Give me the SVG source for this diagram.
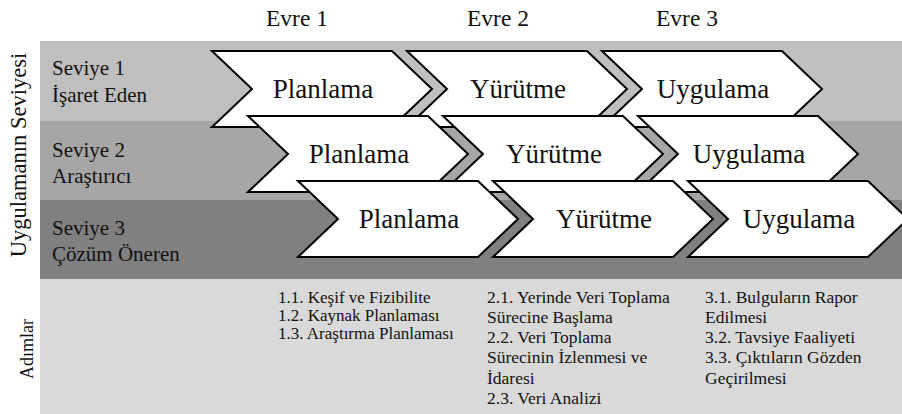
<svg xmlns="http://www.w3.org/2000/svg" width="902" height="414" viewBox="0 0 902 414">
<style>
text{font-family:"Liberation Serif","DejaVu Serif","Times New Roman",serif;fill:#111}
.evre{font-size:23.5px;text-anchor:middle}
.lbl{font-size:21px}
.chev{fill:#fff;stroke:#000;stroke-width:2;stroke-linejoin:miter}
.ct{font-size:27px;text-anchor:middle}
.st{font-size:17px}
.st2{font-size:17.5px}
.rot{font-size:22.5px;text-anchor:middle}
</style>
<defs>
<polygon id="chev" points="0,0 180,0 220,38 180,76 0,76 40,38"/>
</defs>
<rect width="902" height="414" fill="#fff"/>
<g id="bands">
<rect x="40" y="41" width="862" height="80" fill="#bfbfbf"/>
<rect x="40" y="121" width="862" height="79" fill="#a6a6a6"/>
<rect x="40" y="200" width="862" height="79" fill="#808080"/>
<rect x="40" y="279" width="862" height="135" fill="#d9d9d9"/>
</g>
<g id="headers">
<text class="evre" x="297" y="26">Evre 1</text>
<text class="evre" x="498" y="26">Evre 2</text>
<text class="evre" x="687" y="26">Evre 3</text>
</g>
<g id="axis-labels">
<text class="rot" transform="translate(26,155) rotate(-90)">Uygulamanın Seviyesi</text>
<text class="rot" style="font-size:18px" transform="translate(33,349) rotate(-90)">Adımlar</text>
</g>
<g id="level-labels">
<text class="lbl" x="52" y="75">Seviye 1</text>
<text class="lbl" x="52" y="102">İşaret Eden</text>
<text class="lbl" x="52" y="157">Seviye 2</text>
<text class="lbl" x="52" y="183">Araştırıcı</text>
<text class="lbl" x="52" y="235">Seviye 3</text>
<text class="lbl" x="52" y="261">Çözüm Öneren</text>
</g>
<g id="connectors"></g>
<g id="row1">
<g id="n-planlama-1"><use href="#chev" class="chev" x="212" y="51"/><text class="ct" x="323" y="98">Planlama</text></g>
<g id="n-yurutme-1"><use href="#chev" class="chev" x="407" y="51"/><text class="ct" x="518" y="98">Yürütme</text></g>
<g id="n-uygulama-1"><use href="#chev" class="chev" x="602" y="51"/><text class="ct" x="713" y="98">Uygulama</text></g>
</g>
<g id="row2">
<g id="n-planlama-2"><use href="#chev" class="chev" x="248" y="116"/><text class="ct" x="359" y="163">Planlama</text></g>
<g id="n-yurutme-2"><use href="#chev" class="chev" x="443" y="116"/><text class="ct" x="554" y="163">Yürütme</text></g>
<g id="n-uygulama-2"><use href="#chev" class="chev" x="638" y="116"/><text class="ct" x="749" y="163">Uygulama</text></g>
</g>
<g id="row3">
<g id="n-planlama-3"><use href="#chev" class="chev" x="298" y="181"/><text class="ct" x="409" y="228">Planlama</text></g>
<g id="n-yurutme-3"><use href="#chev" class="chev" x="493" y="181"/><text class="ct" x="604" y="228">Yürütme</text></g>
<g id="n-uygulama-3"><use href="#chev" class="chev" x="688" y="181"/><text class="ct" x="799" y="228">Uygulama</text></g>
</g>
<g id="steps">
<text class="st" x="278" y="303">1.1. Keşif ve Fizibilite</text>
<text class="st" x="278" y="321">1.2. Kaynak Planlaması</text>
<text class="st" x="278" y="339">1.3. Araştırma Planlaması</text>
<text class="st2" x="487" y="303">2.1. Yerinde Veri Toplama</text>
<text class="st2" x="487" y="323">Sürecine Başlama</text>
<text class="st2" x="487" y="343">2.2. Veri Toplama</text>
<text class="st2" x="487" y="363">Sürecinin İzlenmesi ve</text>
<text class="st2" x="487" y="384">İdaresi</text>
<text class="st2" x="487" y="404">2.3. Veri Analizi</text>
<text class="st2" x="705" y="303">3.1. Bulguların Rapor</text>
<text class="st2" x="705" y="323">Edilmesi</text>
<text class="st2" x="705" y="343">3.2. Tavsiye Faaliyeti</text>
<text class="st2" x="705" y="363">3.3. Çıktıların Gözden</text>
<text class="st2" x="705" y="384">Geçirilmesi</text>
</g>
</svg>
